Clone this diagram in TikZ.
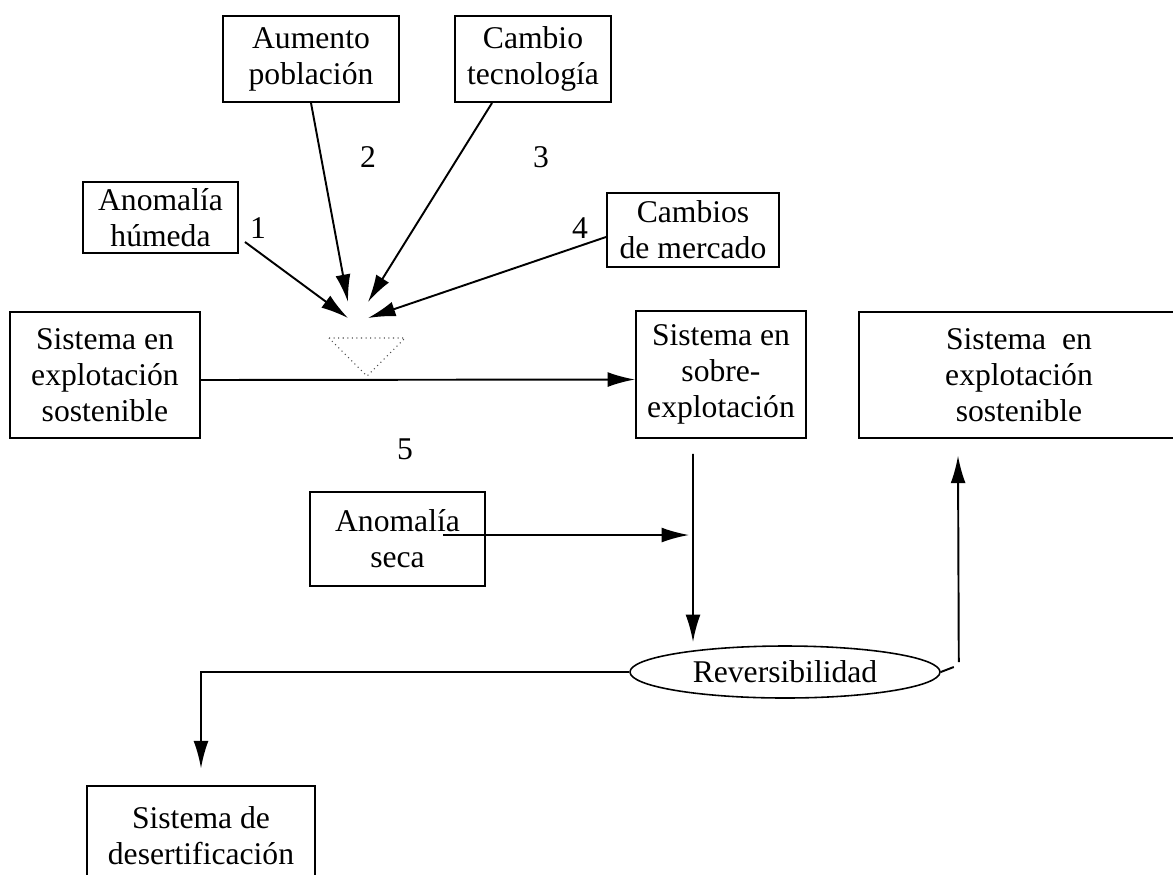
\documentclass[tikz,border=0pt]{standalone}
\usepackage{fontspec}
\setmainfont{Liberation Serif}
\usepackage{tikz}
\usetikzlibrary{arrows.meta,shapes,positioning}
\tikzset{caja/.style={draw, line width=1.1pt, align=center, inner sep=0pt, font=\fontsize{18}{20.5}\selectfont},
  num/.style={font=\fontsize{18}{20}\selectfont},
  flecha/.style={line width=1.1pt, -{Latex[length=5.5mm,width=3mm]}}}

\begin{document}
\begin{tikzpicture}
\useasboundingbox (0,0) rectangle (23.46,-17.48);
%causas
\node[caja,minimum width=3.52cm,minimum height=1.72cm] (aum) at (6.22,-1.18) {Aumento\\ población};
\node[caja,minimum width=3.12cm,minimum height=1.72cm] (tec) at (10.66,-1.18) {Cambio\\ tecnología};
\node[caja,minimum width=3.10cm,minimum height=1.42cm] (hum) at (3.21,-4.35) {Anomalía\\ húmeda};
\node[caja,minimum width=3.44cm,minimum height=1.48cm] (mer) at (13.86,-4.60) {Cambios\\ de mercado};
\node[num] (n1) at (5.16,-4.56) {1}; \node[num] (n2) at (7.36,-3.14) {2};
\node[num] (n3) at (10.82,-3.14) {3}; \node[num] (n4) at (11.60,-4.56) {4};
\node[num] (n5) at (8.10,-8.98) {5};
%arrows into the triangle
\coordinate (t1) at (6.96,-6.36); \coordinate (t2) at (6.96,-6.04);
\coordinate (t3) at (7.36,-6.04); \coordinate (t4) at (7.36,-6.36);
\draw[flecha] ([xshift=1.2mm,yshift=2.4mm]hum.south east) -- (t1);
\draw[flecha] (aum.south) -- (t2);
\draw[flecha] ([xshift=-8.2mm]tec.south) -- (t3);
\draw[flecha] ([yshift=-1.4mm]mer.west) -- (t4);
\draw[dotted,black!70,line width=.6pt] (6.58,-6.76) -- (8.10,-6.76) -- (7.34,-7.52) -- cycle;
%sistemas
\node[caja,minimum width=3.80cm,minimum height=2.52cm] (sos1) at (2.10,-7.50) {Sistema en\\ explotación\\ sostenible};
\node[caja,minimum width=3.40cm,minimum height=2.54cm] (sob) at (14.42,-7.49) {Sistema en\\ sobre-\\ explotación};
\node[caja,line width=.8pt,minimum width=6.40cm,minimum height=2.52cm] (sos2) at (20.38,-7.50) {Sistema~ en\\ explotación\\ sostenible};
\draw[flecha] ([yshift=-1mm]sos1.east) -- ([yshift=-1mm]sob.west);
%anomalia seca
\node[caja,line width=.8pt,minimum width=3.50cm,minimum height=1.88cm] (sec) at (7.95,-10.78) {Anomalía\\ seca};
\coordinate (s1) at (13.78,-10.70); \coordinate (r1) at (13.86,-12.84);
\draw[flecha] ([xshift=9.1mm,yshift=.8mm]sec.center) -- (s1);
\draw[flecha] ([xshift=-5.6mm,yshift=-3mm]sob.south) -- (r1);
%reversibilidad
\node[caja,ellipse,line width=.9pt,minimum width=6.2cm,minimum height=1.04cm] (rev) at (15.70,-13.44) {Reversibilidad};
\node[caja,line width=.8pt,minimum width=4.56cm,minimum height=2.0cm] (des) at (4.02,-16.72) {Sistema de\\ desertificación};
\draw[flecha,shorten >=3.4mm] (rev.west) -| (des.north);
\draw[line width=1.1pt] (rev.east) -- ++(0.26,0.1);
\draw[flecha] ([xshift=3.6mm,yshift=2mm]rev.east) -- ([xshift=-12.2mm,yshift=-3.4mm]sos2.south);
\end{tikzpicture}
\end{document}
